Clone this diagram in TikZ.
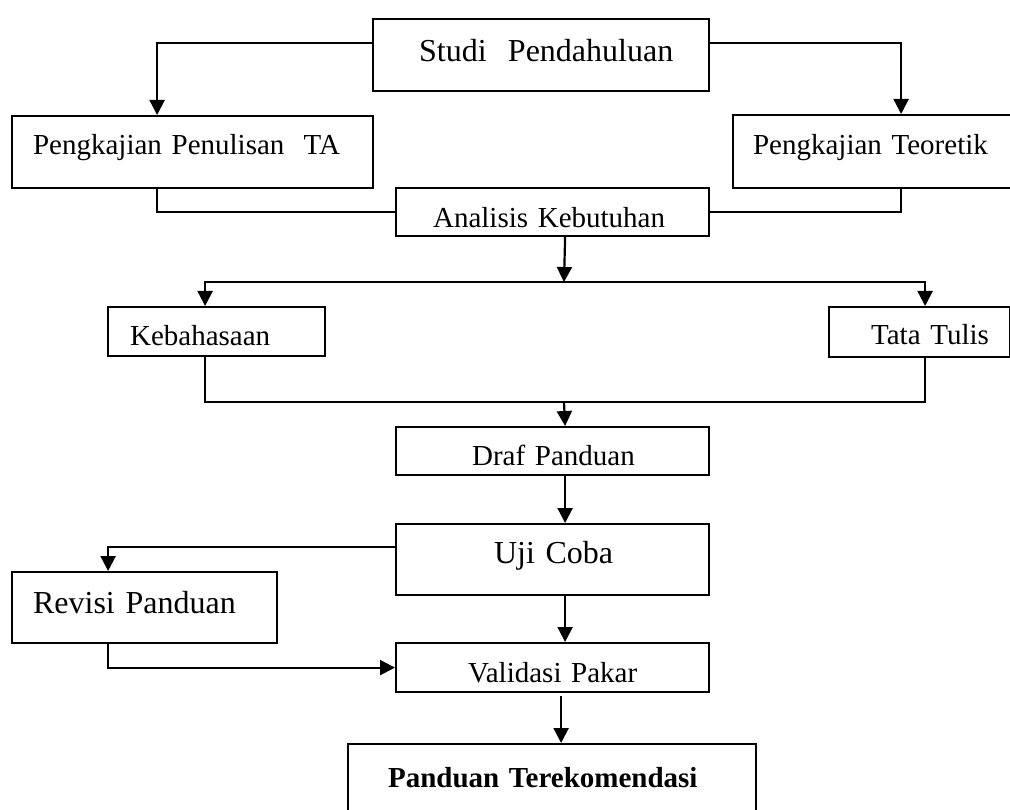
\documentclass[tikz,border=0pt]{standalone}
\usepackage{fontspec}
\setmainfont{Liberation Serif}
\usetikzlibrary{arrows.meta}

\tikzset{
  box/.style={draw, line width=2.2pt, inner sep=0pt, anchor=north west,
    align=left, font=\fontsize{29}{34}\selectfont},
  bigbox/.style={box, font=\fontsize{32}{38}\selectfont},
  link/.style={line width=2.2pt},
  arr/.style={link, -{Triangle[width=15pt,length=15pt]}}
}

\begin{document}
\begin{tikzpicture}[x=1pt, y=-1pt]
    \useasboundingbox (0,0) rectangle (1010,810);

    % boxes
    \node[bigbox, text width=336pt, text height=42pt, text depth=30pt] (studi) at (372,18)
        {\hspace*{46pt}Studi\ \ Pendahuluan};
    \node[box, text width=361pt, text height=38pt, text depth=34pt] (ppta) at (11,115)
        {\hspace*{21pt}Pengkajian Penulisan\ \ TA};
    \node[box, text width=300pt, text height=39pt, text depth=34pt] (pteo) at (732,114)
        {\hspace*{20pt}Pengkajian Teoretik};
    \node[box, text width=313pt, text height=39pt, text depth=9pt] (anal) at (395,187)
        {\hspace*{37pt}Analisis Kebutuhan};
    \node[box, text width=217pt, text height=38pt, text depth=11pt] (keb) at (107,306)
        {\hspace*{22pt}Kebahasaan};
    \node[box, text width=181pt, text height=37pt, text depth=13pt] (tata) at (828,306)
        {\hspace*{42pt}Tata Tulis};
    \node[box, text width=313pt, text height=38pt, text depth=10pt] (draf) at (395,426)
        {\hspace*{76pt}Draf Panduan};
    \node[bigbox, text width=313pt, text height=39pt, text depth=32pt] (uji) at (395,523)
        {\hspace*{98pt}Uji Coba};
    \node[bigbox, text width=265pt, text height=41pt, text depth=30pt] (rev) at (11,571)
        {\hspace*{21pt}Revisi Panduan};
    \node[box, text width=313pt, text height=39pt, text depth=10pt] (vali) at (395,642)
        {\hspace*{72pt}Validasi Pakar};
    \node[box, text width=408pt, text height=43pt, text depth=30pt] (rek) at (347,743)
        {\hspace*{40pt}\textbf{Panduan Terekomendasi}};

    \coordinate (split) at (564,282);
    \coordinate (merge) at (564,402);

    % connectors
    \draw[arr] ([yshift=12pt]studi.west) -| ([xshift=-35.5pt]ppta.north);
    \draw[arr] ([yshift=12pt]studi.east) -| ([xshift=18pt]pteo.north);
    \draw[link] ([xshift=-35.5pt]ppta.south) |- (anal.west);
    \draw[link] ([xshift=18pt]pteo.south) |- (anal.east);

    \draw[arr] ([xshift=12.5pt]anal.south) -- (split);
    \draw[arr] (split) -| ([xshift=-11.5pt]keb.north);
    \draw[arr] (split) -| ([xshift=5.5pt]tata.north);

    \draw[link] ([xshift=-11.5pt]keb.south) |- (merge);
    \draw[link] ([xshift=5.5pt]tata.south) |- (merge);
    \draw[arr] (merge) -- ([xshift=12.5pt]draf.north);

    \draw[arr] ([xshift=12.5pt]draf.south) -- ([xshift=12.5pt]uji.north);
    \draw[arr] ([yshift=12.5pt]uji.west) -| ([xshift=-36.5pt]rev.north);
    \draw[arr] ([xshift=-36.5pt]rev.south) |- (vali.west);
    \draw[arr] ([xshift=12.5pt]uji.south) -- ([xshift=12.5pt]vali.north);
    \draw[arr] ([xshift=8.5pt,yshift=-3pt]vali.south) -- ([xshift=9pt]rek.north);
\end{tikzpicture}
\end{document}
